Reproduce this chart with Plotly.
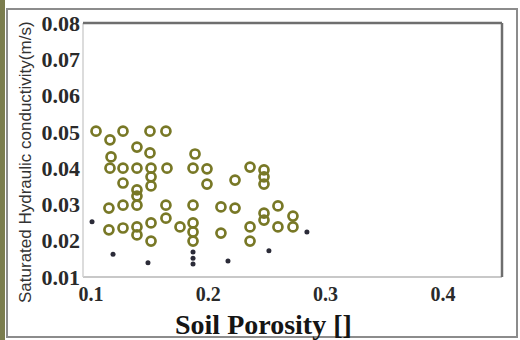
import plotly.graph_objects as go

# Porosity / saturated hydraulic conductivity samples (ring markers)
porosity = [0.1043, 0.1162, 0.1171, 0.1162, 0.1153, 0.1153,
            0.1273, 0.1273, 0.1273, 0.1273, 0.1273,
            0.1392, 0.1392, 0.1392, 0.1392, 0.1392, 0.1392, 0.1392,
            0.1503, 0.1503, 0.1512, 0.1512, 0.1512, 0.1512, 0.1512,
            0.1639, 0.1648, 0.1639, 0.1639, 0.1759,
            0.1887, 0.1870, 0.1870, 0.1870, 0.1870, 0.1870,
            0.1989, 0.1989, 0.2108, 0.2108, 0.2228, 0.2228,
            0.2356, 0.2356, 0.2356, 0.2475, 0.2475, 0.2475, 0.2475, 0.2475,
            0.2594, 0.2594, 0.2722, 0.2722]
conductivity = [0.0502, 0.0478, 0.0431, 0.0400, 0.0290, 0.0230,
                0.0502, 0.0400, 0.0359, 0.0298, 0.0235,
                0.0458, 0.0400, 0.0340, 0.0323, 0.0298, 0.0238, 0.0216,
                0.0502, 0.0442, 0.0400, 0.0376, 0.0351, 0.0249, 0.0199,
                0.0502, 0.0400, 0.0298, 0.0262, 0.0238,
                0.0439, 0.0400, 0.0298, 0.0249, 0.0224, 0.0199,
                0.0398, 0.0356, 0.0293, 0.0221, 0.0367, 0.0290,
                0.0403, 0.0238, 0.0199, 0.0395, 0.0376, 0.0356, 0.0276, 0.0257,
                0.0296, 0.0238, 0.0268, 0.0238]

# Second group (small dark dots)
porosity_b = [0.1009, 0.1188, 0.1486, 0.1870, 0.1870, 0.1870, 0.2168, 0.2517, 0.2841]
conductivity_b = [0.0252, 0.0163, 0.0139, 0.0169, 0.0152, 0.0136, 0.0144, 0.0172, 0.0224]

x_ticks = [0.1, 0.2, 0.3, 0.4]
y_ticks = [0.01, 0.02, 0.03, 0.04, 0.05, 0.06, 0.07, 0.08]

fig = go.Figure()
fig.add_trace(go.Scatter(
    x=porosity, y=conductivity, mode="markers",
    marker=dict(symbol="circle-open", size=9, color="#787826",
                line=dict(width=2.7, color="#787826")),
    showlegend=False))
fig.add_trace(go.Scatter(
    x=porosity_b, y=conductivity_b, mode="markers",
    marker=dict(symbol="circle", size=5, color="#2b2b38"),
    showlegend=False))

x_font = dict(family="Liberation Serif", size=20, color="#2a2a2a", weight="bold")
y_font = dict(family="Liberation Serif", size=22, color="#2a2a2a", weight="bold")

fig.update_xaxes(range=[0.0932, 0.4504], tickvals=x_ticks,
                 ticktext=[f"{v:.1f}" for v in x_ticks],
                 showgrid=False, zeroline=False, showline=False,
                 tickfont=x_font, ticks="", ticklabelstandoff=3)
fig.update_yaxes(range=[0.01, 0.08], tickvals=y_ticks,
                 ticktext=[f"{v:.2f}" for v in y_ticks],
                 showgrid=False, zeroline=False, showline=False,
                 tickfont=y_font, ticks="", ticklabelstandoff=2)

shapes = [
    # outer frame
    dict(type="rect", xref="paper", yref="paper",
         x0=-76 / 419, x1=434 / 419, y0=-60 / 254, y1=268 / 254,
         line=dict(color="#8c8c8c", width=2)),
    # olive strip on the left edge
    dict(type="rect", xref="paper", yref="paper",
         x0=-83 / 419, x1=-78 / 419, y0=-63 / 254, y1=23 / 254 + 1,
         fillcolor="#7b7d4e", line=dict(width=0)),
    # plot frame: light bottom/left, dark top/right
    dict(type="line", xref="paper", yref="paper", x0=0, x1=1, y0=0, y1=0,
         line=dict(color="#c8c8c8", width=2)),
    dict(type="line", xref="paper", yref="paper", x0=0, x1=0, y0=0, y1=1,
         line=dict(color="#d0d0d0", width=1.5)),
    dict(type="line", xref="paper", yref="paper", x0=0, x1=1, y0=1, y1=1,
         line=dict(color="#6e6e6e", width=2.5)),
    dict(type="line", xref="paper", yref="paper", x0=1, x1=1, y0=0, y1=1,
         line=dict(color="#6e6e6e", width=2.5)),
]

annotations = [
    dict(text="Soil Porosity []", xref="paper", yref="paper",
         x=(263 - 83) / 419, y=(277 - 324) / 254, xanchor="center", yanchor="middle",
         showarrow=False,
         font=dict(family="Liberation Serif", size=28, color="#151515", weight="bold")),
    dict(text="Saturated Hydraulic conductivity(m/s)", xref="paper", yref="paper",
         x=(25 - 83) / 419, y=(277 - 162) / 254, xanchor="center", yanchor="middle",
         textangle=-90, showarrow=False,
         font=dict(family="Liberation Sans", size=17, color="#333333")),
]

fig.update_layout(
    width=520, height=340,
    margin=dict(l=83, r=18, t=23, b=63),
    paper_bgcolor="white", plot_bgcolor="white",
    shapes=shapes, annotations=annotations,
)

fig.write_html("out.html")
